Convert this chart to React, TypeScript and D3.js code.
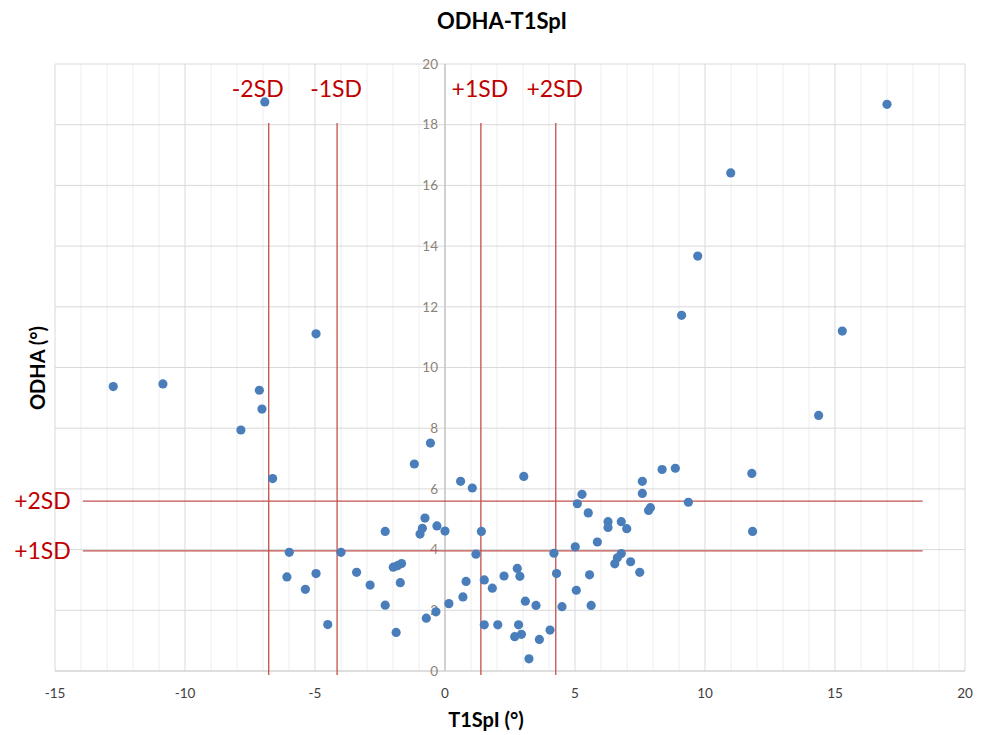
import * as d3 from 'd3';

const WIDTH = 986;
const HEIGHT = 735;
const MARGIN = { top: 64, right: 21, bottom: 64, left: 55 };
const FONT = 'Lato, "Open Sans", sans-serif';

// T1SpI (x) and ODHA (y)
const t1spi = [
    -6.93, -4.96, -12.76, -10.85, -7.14, -7.04, -7.85, -6.63,
    17.0, 10.99, 9.72, 9.1, 15.28, 14.37,
    3.03, 8.35, 8.86, 11.8, 7.59, 7.59, 5.27, 5.09, 9.36, 7.9, 7.83, 5.51,
    6.27, 6.27, 6.78, 6.99, 11.83, 5.86, 5.01, 4.19, 6.78, 6.63, 6.53, 7.14,
    7.49, 5.56, 4.29, 2.78, 2.88, 2.27, 1.51, 1.82, 5.05, 3.09, 3.5, 4.5,
    5.62, 1.51, 2.03, 2.83, 2.68, 2.94, 3.63, 4.04, 3.23, 1.4,
    0.6, 1.05, 0.0, 1.19, 0.81, 0.69, 0.15,
    -0.56, -1.18, -0.77, -0.87, -0.96, -0.31, -2.3, -5.99, -4.0, -6.08, -5.37,
    -4.96, -3.4, -2.88, -1.99, -1.83, -1.67, -1.72, -2.3, -4.51, -1.88, -0.72, -0.35,
];
const odha = [
    18.75, 11.11, 9.37, 9.46, 9.25, 8.63, 7.94, 6.34,
    18.67, 16.41, 13.67, 11.72, 11.2, 8.42,
    6.41, 6.64, 6.68, 6.51, 6.25, 5.85, 5.82, 5.51, 5.56, 5.38, 5.29, 5.21,
    4.92, 4.73, 4.92, 4.69, 4.6, 4.25, 4.09, 3.88, 3.87, 3.73, 3.53, 3.6,
    3.25, 3.17, 3.21, 3.38, 3.12, 3.13, 3.0, 2.73, 2.66, 2.3, 2.16, 2.12,
    2.16, 1.52, 1.52, 1.52, 1.13, 1.21, 1.04, 1.35, 0.4, 4.6,
    6.25, 6.03, 4.61, 3.85, 2.95, 2.44, 2.22,
    7.51, 6.82, 5.04, 4.7, 4.51, 4.78, 4.6, 3.91, 3.91, 3.1, 2.69,
    3.21, 3.25, 2.83, 3.42, 3.47, 3.54, 2.91, 2.17, 1.53, 1.27, 1.74, 1.95,
];

// reference lines
const xSdLabels = ['-2SD', '-1SD', '+1SD', '+2SD'];
const xSdValues = [-6.78, -4.15, 1.38, 4.26];
const xSdSpan = [-0.13, 18.06];
const ySdLabels = ['+1SD', '+2SD'];
const ySdValues = [3.96, 5.6];
const ySdSpan = [-13.93, 18.37];

const xTicks = [-15, -10, -5, 0, 5, 10, 15, 20];
const yTicks = [0, 2, 4, 6, 8, 10, 12, 14, 16, 18, 20];

const LINE_RED = '#c0504d';
const TEXT_RED = '#c00000';

export default function App() {
    const boundsWidth = WIDTH - MARGIN.left - MARGIN.right;
    const boundsHeight = HEIGHT - MARGIN.top - MARGIN.bottom;

    const xScale = d3.scaleLinear().domain([-15, 20]).range([0, boundsWidth]);
    const yScale = d3.scaleLinear().domain([0, 20]).range([boundsHeight, 0]);

    const minorX = d3.range(-15, 21, 1);

    return (
        <div style={{ position: 'absolute', left: 0, top: 0 }}>
            <svg width={WIDTH} height={HEIGHT} style={{ display: 'block', background: '#fff' }}>
                <text x={502} y={29} textAnchor="middle" fontFamily={FONT} fontWeight="bold" fontSize={22} fill="#000">
                    ODHA-T1SpI
                </text>
                <g transform={`translate(${MARGIN.left},${MARGIN.top})`}>
                    {/* minor vertical grid */}
                    {minorX.map((v) => (
                        <line key={'mx' + v} x1={xScale(v)} x2={xScale(v)} y1={0} y2={boundsHeight}
                            stroke={v % 5 === 0 ? '#d9d9d9' : '#eeeeee'} strokeWidth={1} />
                    ))}
                    {yTicks.map((v) => (
                        <line key={'gy' + v} x1={0} x2={boundsWidth} y1={yScale(v)} y2={yScale(v)}
                            stroke="#d9d9d9" strokeWidth={1} />
                    ))}
                    {/* axes */}
                    <line x1={xScale(0)} x2={xScale(0)} y1={0} y2={boundsHeight} stroke="#bfbfbf" strokeWidth={1.2} />
                    <line x1={0} x2={boundsWidth} y1={boundsHeight} y2={boundsHeight} stroke="#d0d0d0" strokeWidth={1.2} />

                    {/* y tick labels sit left of the x=0 axis */}
                    {yTicks.map((v) => (
                        <text key={'ty' + v} x={xScale(0) - 7} y={yScale(v)} dy="0.35em" textAnchor="end"
                            fontFamily={FONT} fontSize={13.5} fill="#8c8478">
                            {v}
                        </text>
                    ))}
                    {xTicks.map((v) => (
                        <text key={'tx' + v} x={xScale(v)} y={boundsHeight + 27} textAnchor="middle"
                            fontFamily={FONT} fontSize={13.5} fill="#404040">
                            {v}
                        </text>
                    ))}

                    {/* SD lines */}
                    {xSdValues.map((v, i) => (
                        <g key={'xsd' + i}>
                            <line x1={xScale(v)} x2={xScale(v)} y1={yScale(xSdSpan[0])} y2={yScale(xSdSpan[1])}
                                stroke={LINE_RED} strokeWidth={1.3} />
                            <text x={xScale(v) - (i === 0 ? 11 : 1)} y={33} textAnchor="middle"
                                fontFamily={FONT} fontSize={23} fill={TEXT_RED}>
                                {xSdLabels[i]}
                            </text>
                        </g>
                    ))}
                    {ySdValues.map((v, i) => (
                        <g key={'ysd' + i}>
                            <line x1={xScale(ySdSpan[0])} x2={xScale(ySdSpan[1])} y1={yScale(v)} y2={yScale(v)}
                                stroke={LINE_RED} strokeWidth={1.3} />
                            <text x={xScale(ySdSpan[0]) - 12} y={yScale(v)} dy="0.35em" textAnchor="end"
                                fontFamily={FONT} fontSize={23} fill={TEXT_RED}>
                                {ySdLabels[i]}
                            </text>
                        </g>
                    ))}

                    {/* points */}
                    {t1spi.map((x, i) => (
                        <circle key={'p' + i} cx={xScale(x)} cy={yScale(odha[i])} r={4.6} fill="#4a7ebb" />
                    ))}
                </g>
                <text x={486} y={727} textAnchor="middle" fontFamily={FONT} fontWeight="bold" fontSize={20} fill="#000">
                    T1SpI (°)
                </text>
                <text transform="translate(45,368) rotate(-90)" textAnchor="middle" fontFamily={FONT}
                    fontWeight="bold" fontSize={20} fill="#000">
                    ODHA (°)
                </text>
            </svg>
        </div>
    );
}
